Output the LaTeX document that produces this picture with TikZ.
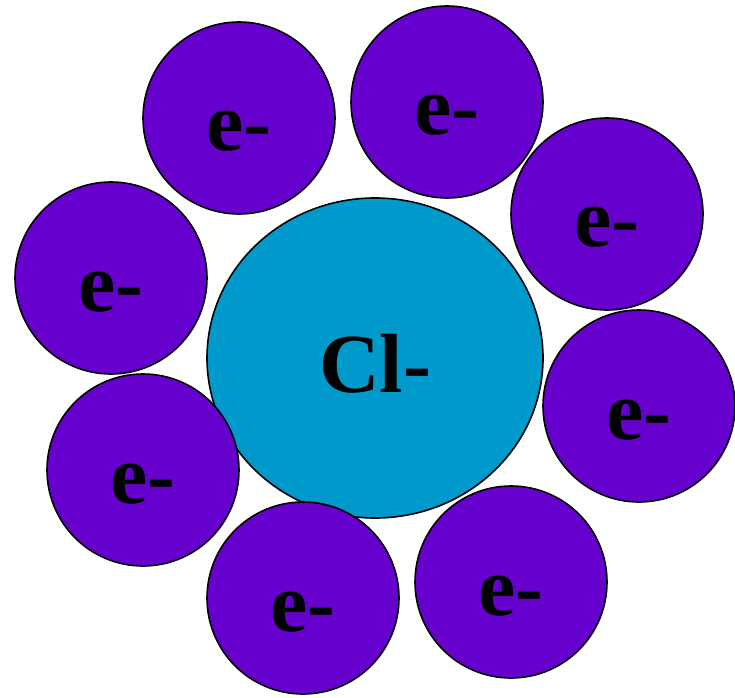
\documentclass[tikz,border=0pt]{standalone}
\usepackage{fontspec}
\setmainfont{Liberation Serif}
\usetikzlibrary{shapes.geometric}
\definecolor{epurple}{RGB}{102,0,204}
\definecolor{clblue}{RGB}{0,153,204}
\tikzset{
  electron/.style={circle, draw=black, line width=1.6pt, fill=epurple, minimum size=192pt, inner sep=0pt},
  ion/.style={ellipse, draw=black, line width=1.6pt, fill=clblue, minimum width=336pt, minimum height=320pt, inner sep=0pt},
  lbl/.style={anchor=base, inner sep=0pt, font=\fontsize{84}{84}\selectfont\bfseries}
}
\begin{document}
\begin{tikzpicture}[x=1pt,y=1pt]
\useasboundingbox (0,0) rectangle (735,697);
\node[ion] (cl) at (375,339) {};
\node[lbl] (cltxt) at ([yshift=-34pt]cl.center) {Cl-};
\foreach \n/\x/\y in {1/239/118, 2/447/102, 3/607/214, 4/111/278, 5/639/406, 6/143/470, 7/511/582, 8/303/598}{
  \node[electron] (e\n) at (\x,697-\y) {};
  \node[lbl] (et\n) at ([yshift=-33pt]e\n.center) {e-};
}
\end{tikzpicture}
\end{document}
